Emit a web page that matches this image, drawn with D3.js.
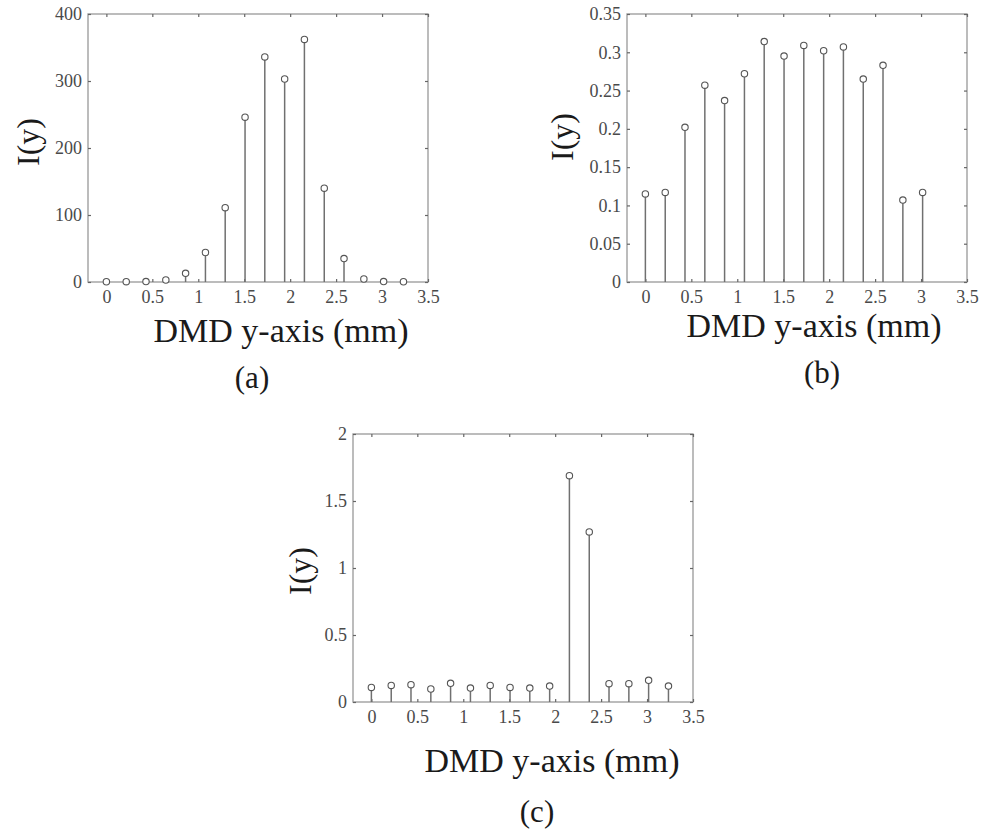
<!DOCTYPE html>
<html>
<head>
<meta charset="utf-8">
<script src="https://cdn.jsdelivr.net/npm/d3@7"></script>
<style>
  html, body { margin: 0; padding: 0; background: #fff; }
  svg { display: block; }
  svg text { font-family: "Liberation Serif", "DejaVu Serif", serif; }
</style>
</head>
<body>
<svg id="chart" width="981" height="833"></svg>
<script>
// DMD y-axis sample positions (mm)
const positions = [0, 0.216, 0.431, 0.647, 0.862, 1.078, 1.293, 1.509, 1.724, 1.940, 2.155, 2.371, 2.586, 2.802, 3.017, 3.233];

// Intensity profiles I(y)
const intensityA = [0.4, 0.5, 0.6, 3, 13, 44, 111, 246, 336, 303, 362, 140, 35, 4.5, 0.6, 0.4];
const intensityB = [0.115, 0.117, 0.202, 0.257, 0.237, 0.272, 0.314, 0.295, 0.309, 0.302, 0.307, 0.265, 0.283, 0.107, 0.117];
const intensityC = [0.109, 0.124, 0.129, 0.097, 0.139, 0.104, 0.124, 0.109, 0.104, 0.119, 1.689, 1.269, 0.137, 0.137, 0.162, 0.119];

// Tick values
const xTicks = [0, 0.5, 1, 1.5, 2, 2.5, 3, 3.5];
const yTicksA = [0, 100, 200, 300, 400];
const yTicksB = [0, 0.05, 0.1, 0.15, 0.2, 0.25, 0.3, 0.35];
const yTicksC = [0, 0.5, 1, 1.5, 2];

const xTitle = "DMD y-axis (mm)";
const yTitle = "I(y)";
const panelLabels = ["(a)", "(b)", "(c)"];

const FONT = '"Liberation Serif", "DejaVu Serif", serif';

const panels = [
  { values: intensityA, yTicks: yTicksA, label: panelLabels[0],
    box: { left: 88, top: 14, width: 340, height: 268 },
    xTitlePos: [281, 342], labelPos: [252, 388], yTitlePos: [28, 142] },
  { values: intensityB, yTicks: yTicksB, label: panelLabels[1],
    box: { left: 627, top: 14, width: 340, height: 268 },
    xTitlePos: [814, 337], labelPos: [822, 383], yTitlePos: [562, 137] },
  { values: intensityC, yTicks: yTicksC, label: panelLabels[2],
    box: { left: 353, top: 434, width: 340, height: 268 },
    xTitlePos: [552, 772], labelPos: [537, 822], yTitlePos: [300, 571] }
];

const svg = d3.select("#chart");
const fmt = d => String(+d.toFixed(2));

panels.forEach(p => {
  const b = p.box;
  const g = svg.append("g").attr("transform", `translate(${b.left},${b.top})`);

  const x = d3.scaleLinear().domain([-0.2, 3.5]).range([0, b.width]);
  const yMax = p.yTicks[p.yTicks.length - 1];
  const y = d3.scaleLinear().domain([0, yMax]).range([b.height, 0]);

  // Frame
  g.append("rect")
    .attr("x", 0).attr("y", 0).attr("width", b.width).attr("height", b.height)
    .attr("fill", "none").attr("stroke", "#a0a0a0").attr("stroke-width", 1.4);

  const styleAxis = sel => {
    sel.attr("font-family", FONT).attr("font-size", 18);
    sel.select(".domain").remove();
    sel.selectAll(".tick line").attr("stroke", "#666").attr("stroke-width", 1.2);
    sel.selectAll(".tick text").attr("fill", "#4a4a4a");
  };

  // Bottom + left axes with labels, inward ticks
  g.append("g").attr("transform", `translate(0,${b.height})`)
    .call(d3.axisBottom(x).tickValues(xTicks).tickFormat(fmt).tickSizeInner(-3).tickSizeOuter(0).tickPadding(8))
    .call(styleAxis);
  g.append("g")
    .call(d3.axisLeft(y).tickValues(p.yTicks).tickFormat(fmt).tickSizeInner(-3).tickSizeOuter(0).tickPadding(6))
    .call(styleAxis);
  // Top + right axes: ticks only
  g.append("g")
    .call(d3.axisTop(x).tickValues(xTicks).tickFormat("").tickSizeInner(-3).tickSizeOuter(0))
    .call(styleAxis);
  g.append("g").attr("transform", `translate(${b.width},0)`)
    .call(d3.axisRight(y).tickValues(p.yTicks).tickFormat("").tickSizeInner(-3).tickSizeOuter(0))
    .call(styleAxis);

  const pts = p.values.map((v, i) => ({ x: positions[i], v }));

  // Stems
  g.selectAll("line.stem").data(pts).join("line")
    .attr("class", "stem")
    .attr("x1", d => x(d.x)).attr("x2", d => x(d.x))
    .attr("y1", y(0)).attr("y2", d => y(d.v))
    .attr("stroke", "#707070").attr("stroke-width", 1.5);

  // Open circle markers
  g.selectAll("circle.mk").data(pts).join("circle")
    .attr("class", "mk")
    .attr("cx", d => x(d.x)).attr("cy", d => y(d.v)).attr("r", 3.2)
    .attr("fill", "#fff").attr("stroke", "#555").attr("stroke-width", 1.1);

  // Axis titles
  svg.append("text")
    .attr("x", p.xTitlePos[0]).attr("y", p.xTitlePos[1])
    .attr("text-anchor", "middle").attr("fill", "#1a1a1a")
    .attr("font-family", FONT).attr("font-size", 34).text(xTitle);
  svg.append("text")
    .attr("transform", `translate(${p.yTitlePos[0]},${p.yTitlePos[1]}) rotate(-90)`)
    .attr("text-anchor", "middle").attr("dominant-baseline", "central")
    .attr("fill", "#1a1a1a")
    .attr("font-family", FONT).attr("font-size", 32).text(yTitle);
  // Panel label
  svg.append("text")
    .attr("x", p.labelPos[0]).attr("y", p.labelPos[1])
    .attr("text-anchor", "middle").attr("fill", "#1a1a1a")
    .attr("font-family", FONT).attr("font-size", 31).text(p.label);
});
</script>
</body>
</html>
